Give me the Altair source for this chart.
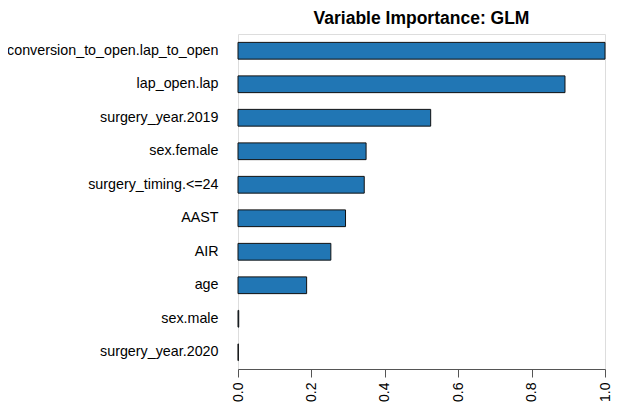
import altair as alt
import pandas as pd

variables = [
    "conversion_to_open.lap_to_open",
    "lap_open.lap",
    "surgery_year.2019",
    "sex.female",
    "surgery_timing.<=24",
    "AAST",
    "AIR",
    "age",
    "sex.male",
    "surgery_year.2020",
]
importance = [1.0, 0.891, 0.525, 0.349, 0.344, 0.293, 0.253, 0.187, 0.002, 0.001]
x_ticks = [0.0, 0.2, 0.4, 0.6, 0.8, 1.0]

df = pd.DataFrame({"variable": variables, "importance": importance})

chart = (
    alt.Chart(df)
    .mark_bar(color="#2176B4", stroke="#111111", strokeWidth=1)
    .encode(
        x=alt.X(
            "importance:Q",
            scale=alt.Scale(domain=[0, 1], nice=False, zero=True),
            axis=alt.Axis(
                title=None,
                values=x_ticks,
                format=".1f",
                labelAngle=270,
                grid=False,
                tickSize=8,
                labelPadding=5,
                labelFontSize=14,
                labelFont="Liberation Sans",
                labelColor="#000000",
                labelFlush=False,
                labelOverlap=False,
                domainColor="#555555",
                tickColor="#555555",
            ),
        ),
        y=alt.Y(
            "variable:N",
            sort=variables,
            scale=alt.Scale(paddingInner=0.5, paddingOuter=0.25),
            axis=alt.Axis(
                title=None,
                domain=False,
                ticks=False,
                labelPadding=20,
                labelFontSize=14.3,
                labelFont="Liberation Sans",
                labelColor="#000000",
                labelLimit=400,
            ),
        ),
    )
    .properties(
        width=367,
        height=335,
        title=alt.TitleParams(
            "Variable Importance: GLM",
            font="Liberation Sans",
            fontSize=17.5,
            fontWeight="bold",
            anchor="middle",
            offset=7,
            color="#000000",
        ),
        autosize=alt.AutoSizeParams(type="none"),
        padding={"left": 230, "top": 26, "right": 7, "bottom": 33},
    )
    .configure_view(stroke=None)
    .configure(background="white")
)

chart.save("out.html", embed_options={"renderer": "svg", "actions": False})
